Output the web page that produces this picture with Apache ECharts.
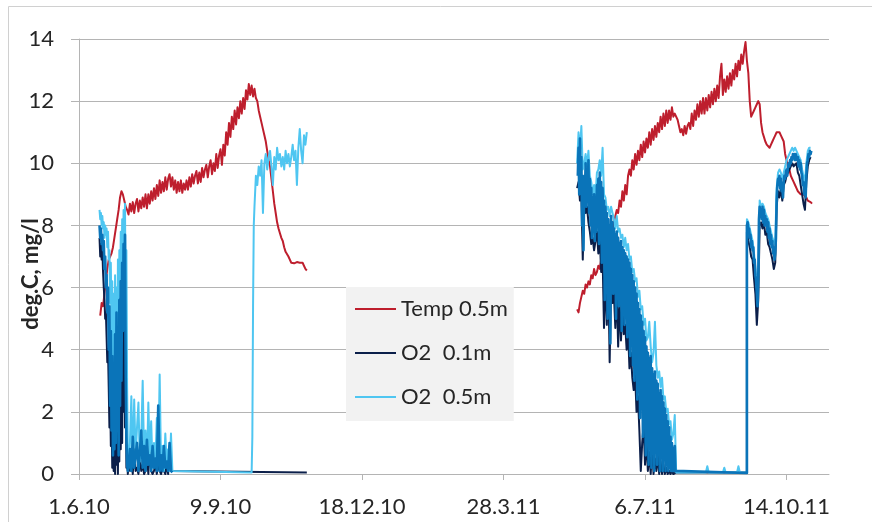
<!DOCTYPE html>
<html>
<head>
<meta charset="utf-8">
<script src="https://cdn.jsdelivr.net/npm/echarts@6/dist/echarts.min.js"></script>
<style>
  html, body { margin: 0; padding: 0; background: #ffffff; }
  #chart { width: 872px; height: 522px; }
</style>
</head>
<body>
<div id="chart"></div>
<script>
// x axis: days counted from 1 June 2010
const AXIS_START = Date.UTC(2010, 5, 1);
const xTickDays = [0, 100, 200, 300, 400, 500];
const xMaxDay = 530;
const yMin = 0, yMax = 14, yStep = 2;
const yTitle = 'deg.C, mg/l';
const legendNames = ['Temp 0.5m', 'O2  0.1m', 'O2  0.5m'];

// Temperature at 0.5 m, daily readings
const temp2010Start = 15;
const temp2010 = [
  5.1, 5.5, 5.4, 5.8, 6.2, 6.6, 6.9, 7.0, 7.1, 7.3,
  7.6, 7.9, 8.2, 8.5, 8.9, 9.1, 9.0, 8.8, 8.6, 8.5,
  8.35, 8.7, 8.45, 8.75, 8.4, 8.7, 8.85, 8.45, 8.8, 8.55,
  8.9, 8.6, 9.0, 8.55, 9.0, 8.7, 9.1, 8.8, 9.2, 8.85,
  9.3, 8.95, 9.45, 9.05, 9.4, 9.1, 9.55, 9.15, 9.5, 9.65,
  9.25, 9.55, 9.15, 9.45, 9.05, 9.4, 9.1, 9.45, 9.05, 9.35,
  9.15, 9.45, 9.15, 9.55, 9.25, 9.65, 9.35, 9.6, 9.75, 9.35,
  9.7, 9.4, 9.85, 9.55, 9.8, 9.95, 9.55, 9.9, 10.1, 9.65,
  10.0, 9.75, 10.3, 9.85, 10.25, 10.45, 9.95, 10.6, 10.25, 11.0,
  10.6, 11.3, 10.85, 11.5, 11.1, 11.7, 11.25, 11.8, 11.45, 12.0,
  11.6, 12.1, 11.75, 12.35, 12.05, 12.55, 12.2, 12.5, 12.15, 12.4,
  12.1, 12.0, 11.7, 11.5, 11.3, 11.1, 10.9, 10.7, 10.4, 10.1,
  9.9, 9.5, 9.1, 8.7, 8.4, 8.1, 7.9, 7.75, 7.6, 7.5,
  7.3, 7.15, 7.1, 7.0, 6.9, 6.8, 6.8, 6.78, 6.8, 6.82,
  6.8, 6.8, 6.8, 6.8, 6.75, 6.6, 6.55
];
const temp2011Start = 352;
const temp2011 = [
  5.3, 5.2, 5.5, 5.7, 5.9, 5.8, 6.1, 6.0, 6.2, 6.1,
  6.4, 6.3, 6.6, 6.4, 6.5, 6.7, 6.6, 6.9, 6.8, 7.0,
  7.1, 7.0, 7.4, 7.3, 7.7, 7.6, 8.1, 8.3, 8.5, 8.4,
  8.8, 8.6, 9.1, 8.8, 9.3, 9.0, 9.6, 9.8, 9.6, 10.1,
  9.8, 10.3, 9.95, 10.4, 10.1, 10.6, 10.2, 10.7, 10.35, 10.8,
  10.5, 11.0, 10.6, 11.1, 10.75, 11.2, 10.85, 11.3, 11.0, 11.5,
  11.1, 11.6, 11.2, 11.7, 11.3, 11.7, 11.4, 11.8, 11.5, 11.6,
  11.6, 11.4, 11.2, 11.0, 11.1, 10.9, 11.2, 10.95, 11.2, 11.3,
  11.1, 11.6, 11.2, 11.7, 11.4, 11.9, 11.5, 12.0, 11.6, 12.1,
  11.6, 12.1, 11.7, 12.2, 11.8, 12.3, 11.9, 12.4, 12.0, 12.5,
  12.1, 12.8, 13.2, 12.2, 12.7, 12.3, 12.8, 12.4, 12.9, 12.5,
  13.0, 12.7, 13.2, 12.8, 13.3, 13.0, 13.5, 13.2, 13.6, 13.9,
  13.3, 12.9, 12.0, 11.5, 11.6, 11.7, 11.8, 11.9, 12.0, 11.9,
  11.3, 11.0, 10.85, 10.7, 10.6, 10.55, 10.5, 10.6, 10.7, 10.8,
  10.9, 11.0, 11.05, 11.0, 10.9, 10.85, 10.7, 10.3, 10.1, 9.9,
  9.8, 9.6, 9.5, 9.4, 9.3, 9.2, 9.1, 9.05, 9.0, 9.05,
  9.0, 8.95, 8.9, 8.8, 8.85, 8.75, 8.7
];

// O2 at 0.1 m (mg/l)
const o2Top2010Drop = [   // half-day readings from day 14.5
  7.6, 7.0, 7.4, 6.9, 7.2, 6.5, 6.0, 5.6, 5.0, 5.2,
  4.4, 3.6, 4.0, 2.8, 1.5, 2.6, 0.9, 1.8, 0.2, 1.0,
  0.1, 2.2, 0.0, 3.4, 0.3, 1.2, 0.0, 2.6, 0.4, 4.2,
  0.8, 3.0, 1.0, 5.0, 2.0, 6.3, 1.5, 3.5, 0.2, 0.6,
  0.0, 0.3
];
const o2Top2010Low = [    // daily readings from day 35
  0.3, 0.1, 0.6, 0.0, 0.8, 0.1, 0.2, 0.0, 0.5, 0.1,
  0.3, 0.0, 0.1, 0.6, 0.0, 0.9, 0.1, 0.0, 0.1, 0.3,
  0.0, 0.4, 0.1, 0.0, 0.2, 0.1, 0.0, 0.3, 0.0, 0.9,
  0.1, 0.05
];
const o2Top2010End = [[161, 0.05]];
const o2Top2011Drop = [   // daily readings from day 352
  9.2, 9.4, 8.8, 9.0, 6.9, 8.8, 8.4, 8.6, 8.1, 7.8,
  7.4, 7.6, 7.2, 7.5, 7.8, 7.1, 7.6, 6.5, 7.0, 4.7,
  6.5, 4.8, 6.6, 3.6, 6.1, 5.5, 5.8, 4.7, 6.0, 4.1,
  5.6, 4.3, 5.4, 4.5, 4.8, 4.0, 4.6, 3.4, 3.9, 3.1,
  2.7, 3.2, 2.0, 2.5, 1.4, 0.1, 1.0, 1.6, 0.3, 1.1,
  0.1, 0.7, 0.0, 0.9, 0.0, 0.5, 0.1, 0.6, 0.0, 0.4,
  0.0, 0.3, 0.0, 0.2, 0.0, 0.1, 0.0, 0.1, 0.0, 0.05,
  0.05
];
const o2Top2011Anoxic = [[472, 0.05]];
const o2Top2011Rise = [   // daily readings from day 472
  7.8, 7.5, 7.3, 7.0, 6.9, 6.3, 5.8, 4.8, 5.6, 8.0,
  8.1, 7.9, 8.1, 7.7, 7.8, 7.4, 7.3, 7.1, 6.9, 6.6,
  6.8, 8.6, 9.1, 8.9, 9.2, 8.8, 9.3, 9.4, 9.6, 9.7,
  9.8, 9.9, 10.0, 9.9, 9.9, 10.0, 9.7, 9.6, 9.3, 9.0,
  8.7, 8.5, 9.4, 9.9, 10.1, 10.2
];

// O2 at 0.5 m (mg/l)
const o2Half2010Drop = [  // half-day readings from day 14.5
  8.5, 8.2, 8.4, 8.0, 8.3, 7.9, 8.1, 7.6, 8.0, 7.7,
  7.9, 7.3, 7.8, 6.9, 7.2, 5.5, 6.8, 4.2, 6.2, 3.5,
  5.8, 2.0, 6.4, 1.2, 6.0, 2.8, 6.9, 3.5, 7.2, 4.8,
  7.8, 5.6, 8.2, 6.0, 8.5, 6.8, 8.7, 5.2, 7.2, 2.8,
  0.8, 0.2
];
const o2Half2010Low = [   // daily readings from day 35
  0.2, 1.0, 2.5, 0.3, 2.4, 0.6, 1.5, 2.3, 0.4, 1.1,
  3.0, 0.5, 1.4, 0.3, 2.3, 0.6, 1.7, 0.2, 1.0, 0.4,
  1.8, 0.3, 3.2, 0.2, 0.9, 0.1, 1.3, 0.3, 0.8, 0.1,
  1.3, 0.1, 0.05
];
const o2Half2010Return = [0.05, 1.2, 5.4, 8.0];   // half-day readings from day 122
const o2Half2010High = [  // daily readings from day 124
  8.6, 9.6, 9.3, 9.9, 9.6, 10.1, 8.4, 10.0, 10.3, 9.8,
  10.2, 10.4, 9.9, 9.3, 10.2, 9.8, 10.5, 10.1, 10.3, 9.9,
  10.2, 9.8, 10.4, 10.0, 10.3, 9.9, 10.2, 10.6, 10.1, 10.4,
  9.3, 10.5, 11.1, 10.4, 10.0, 10.9, 10.6, 11.0
];
const o2Half2011Drop = [  // daily readings from day 352
  10.0, 11.0, 10.4, 11.2, 9.8, 10.0, 10.3, 9.9, 10.4, 9.6,
  9.4, 9.0, 9.3, 8.9, 9.7, 9.8, 10.1, 9.6, 10.5, 9.0,
  8.9, 8.5, 8.6, 8.3, 8.6, 8.4, 8.2, 7.9, 8.3, 7.8,
  7.9, 7.6, 7.7, 7.3, 7.6, 7.2, 7.4, 6.9, 7.0, 6.5,
  6.6, 6.2, 6.3, 5.7, 5.9, 5.3, 5.4, 4.8, 5.0, 4.3,
  4.4, 4.9, 4.1, 3.6, 3.9, 4.9, 3.5, 3.1, 3.3, 2.8,
  3.1, 2.4, 2.5, 2.0, 2.1, 1.6, 1.7, 1.1, 1.3, 1.9,
  0.05
];
const o2Half2011Anoxic = [
  [430, 0.05], [443, 0.05], [444, 0.25], [445, 0.05], [455, 0.05], [456, 0.2],
  [457, 0.05], [465, 0.05], [466, 0.25], [467, 0.05], [472, 0.05]
];
const o2Half2011Rise = [  // daily readings from day 472
  8.2, 8.1, 7.9, 7.7, 7.5, 7.1, 6.6, 6.0, 6.4, 8.8,
  8.6, 8.7, 8.6, 8.4, 8.3, 8.2, 8.0, 7.8, 7.6, 7.5,
  7.4, 9.2, 9.7, 9.8, 9.7, 9.5, 9.7, 9.9, 10.1, 10.2,
  10.3, 10.4, 10.5, 10.4, 10.5, 10.4, 10.4, 10.2, 10.1, 9.8,
  9.6, 9.4, 10.0, 10.4, 10.5, 10.5
];

// O2, intermediate logger (mg/l), not listed in the legend
const o2Mid2010Drop = [   // half-day readings from day 14.5
  8.0, 7.6, 7.9, 7.4, 7.7, 7.2, 7.5, 6.6, 7.0, 6.0,
  6.4, 5.2, 6.0, 4.0, 5.4, 2.2, 4.6, 1.4, 3.8, 0.6,
  2.9, 0.8, 4.5, 1.0, 5.2, 1.6, 4.0, 0.6, 5.6, 2.2,
  6.2, 3.0, 6.8, 4.6, 7.4, 5.0, 7.7, 3.2, 1.2, 0.3,
  0.1, 0.2
];
const o2Mid2010Low = [    // daily readings from day 35
  0.2, 0.8, 0.1, 1.2, 0.2, 0.6, 1.0, 0.1, 0.7, 1.4,
  0.2, 0.9, 0.1, 1.1, 0.3, 0.6, 0.1, 0.9, 0.2, 0.5,
  0.1, 2.2, 0.1, 0.6, 0.1, 0.9, 0.2, 0.4, 0.1, 1.0,
  0.1, 0.05
];
const o2Mid2011Drop = [   // half-day readings from day 352.5
  9.6, 10.5, 9.0, 10.8, 9.4, 10.2, 8.0, 9.6, 7.2, 9.4,
  9.0, 10.0, 8.6, 9.8, 8.8, 10.1, 8.4, 9.5, 8.0, 9.2,
  7.6, 8.9, 7.9, 9.0, 7.5, 8.7, 7.8, 9.3, 8.2, 9.5,
  7.4, 9.7, 8.0, 9.4, 6.8, 9.2, 7.5, 8.8, 5.6, 8.6,
  6.9, 8.4, 5.0, 8.2, 7.0, 8.0, 4.2, 8.3, 6.5, 8.1,
  5.8, 7.9, 6.2, 7.7, 5.0, 7.8, 6.4, 7.6, 5.4, 7.4,
  6.0, 7.5, 4.6, 7.3, 5.8, 7.2, 4.8, 7.1, 5.2, 7.0,
  4.4, 6.9, 5.0, 6.8, 3.8, 6.6, 4.2, 6.4, 3.5, 6.2,
  3.0, 6.0, 3.6, 5.8, 2.4, 5.5, 2.9, 5.3, 1.8, 5.1,
  2.4, 4.9, 1.2, 4.6, 2.0, 4.4, 0.6, 4.1, 1.4, 3.9,
  0.3, 3.7, 1.0, 3.8, 0.2, 3.4, 1.2, 3.2, 0.1, 3.3,
  0.8, 3.0, 0.3, 2.9, 0.9, 2.6, 0.1, 2.7, 0.6, 2.5,
  0.1, 2.3, 0.5, 2.1, 0.1, 1.9, 0.3, 1.7, 0.1, 1.5,
  0.2, 1.2, 0.1, 1.0, 0.1, 0.8, 0.1, 0.9, 0.1, 0.05
];
const o2Mid2011Anoxic = [[472, 0.03]];
const o2Mid2011Rise = [   // half-day readings from day 472
  8.0, 8.1, 7.8, 7.9, 7.6, 7.7, 7.3, 7.5, 7.2, 7.3,
  6.8, 6.9, 6.4, 6.2, 5.8, 5.4, 6.2, 8.2, 8.6, 8.3,
  8.5, 8.2, 8.6, 8.1, 8.5, 8.0, 8.3, 8.0, 8.2, 7.8,
  8.1, 7.6, 7.9, 7.4, 7.7, 7.3, 7.5, 7.1, 7.3, 6.9,
  7.1, 7.6, 8.8, 9.3, 9.5, 9.3, 9.6, 9.2, 9.5, 9.1,
  9.3, 8.9, 9.4, 9.6, 9.5, 9.7, 9.8, 9.6, 9.9, 10.0,
  9.9, 10.1, 10.0, 10.2, 10.1, 10.3, 10.2, 10.3, 10.1, 10.3,
  10.2, 10.1, 10.2, 9.9, 10.1, 9.8, 10.0, 9.7, 9.6, 9.3,
  9.4, 9.0, 9.2, 8.9, 9.6, 10.0, 10.1, 10.3, 10.2, 10.4,
  10.3, 10.4
];

// readings taken at a fixed step -> [day, value] pairs
function run(startDay, stepDays, values) {
  return values.map((v, i) => [startDay + i * stepDays, v]);
}

const COLORS = { temp: '#be1e2d', top: '#0b1f4a', half: '#4fc6f1', mid: '#0a74b9' };

function line(name, color, data, width) {
  return {
    type: 'line', name: name, data: data, color: color,
    symbol: 'none', showSymbol: false, smooth: false,
    lineStyle: { width: width || 2, color: color, join: 'round' },
    emphasis: { disabled: true }, silent: true, animation: false
  };
}

const series = [
  line(legendNames[0], COLORS.temp, run(temp2010Start, 1, temp2010)),
  line(legendNames[0], COLORS.temp, run(temp2011Start, 1, temp2011)),
  line(legendNames[1], COLORS.top,
       run(14.5, 0.5, o2Top2010Drop).concat(run(35, 1, o2Top2010Low), o2Top2010End)),
  line(legendNames[1], COLORS.top,
       run(352, 1, o2Top2011Drop).concat(o2Top2011Anoxic, run(472, 1, o2Top2011Rise))),
  line(legendNames[2], COLORS.half,
       run(14.5, 0.5, o2Half2010Drop).concat(run(35, 1, o2Half2010Low),
         run(122, 0.5, o2Half2010Return), run(124, 1, o2Half2010High))),
  line(legendNames[2], COLORS.half,
       run(352, 1, o2Half2011Drop).concat(o2Half2011Anoxic, run(472, 1, o2Half2011Rise))),
  line('O2 mid', COLORS.mid,
       run(14.5, 0.5, o2Mid2010Drop).concat(run(35, 1, o2Mid2010Low)), 2.6),
  line('O2 mid', COLORS.mid,
       run(352.5, 0.5, o2Mid2011Drop).concat(o2Mid2011Anoxic, run(472, 0.5, o2Mid2011Rise)), 2.6)
];

function dayLabel(day) {
  const d = new Date(AXIS_START + day * 86400000);
  return d.getUTCDate() + '.' + (d.getUTCMonth() + 1) + '.' + String(d.getUTCFullYear()).slice(2);
}

const FONT = 'Lato, "Open Sans", sans-serif';
const TEXT = '#262626';
const GRID = '#b4b4b4';

const option = {
  backgroundColor: '#ffffff',
  animation: false,
  grid: { left: 79, right: 43, top: 39, bottom: 48, containLabel: false },
  xAxis: {
    type: 'value', min: 0, max: xMaxDay,
    axisLine: { show: true, lineStyle: { color: GRID, width: 1 } },
    axisTick: { show: true, length: 6, inside: false, customValues: xTickDays, lineStyle: { color: GRID } },
    axisLabel: { customValues: xTickDays, formatter: dayLabel, margin: 22,
                 fontFamily: FONT, fontSize: 22, color: TEXT },
    splitLine: { show: false }
  },
  yAxis: {
    type: 'value', min: yMin, max: yMax, interval: yStep,
    axisLine: { show: true, lineStyle: { color: GRID, width: 1 } },
    axisTick: { show: true, length: 8, inside: false, lineStyle: { color: GRID } },
    axisLabel: { margin: 25, fontFamily: FONT, fontSize: 22, color: TEXT },
    splitLine: { show: true, lineStyle: { color: GRID, width: 1 } }
  },
  legend: {
    data: legendNames,
    orient: 'vertical', left: 346, top: 287,
    backgroundColor: '#f2f2f2',
    padding: [9, 6, 11, 9],
    itemGap: 18, itemWidth: 41, itemHeight: 2, icon: 'rect',
    textStyle: { fontFamily: FONT, fontSize: 22, color: TEXT, lineHeight: 26 },
    selectedMode: false
  },
  graphic: [
    { type: 'rect', silent: true, z: -10,
      shape: { x: 8.5, y: 6.5, width: 900, height: 600 },
      style: { fill: 'none', stroke: '#d0d0d0', lineWidth: 1 } },
    { type: 'text', silent: true, x: 31, y: 274, rotation: Math.PI / 2,
      style: { text: yTitle, fill: TEXT, font: 'bold 22px ' + FONT,
               align: 'center', verticalAlign: 'middle' } }
  ],
  series: series
};

const chart = echarts.init(document.getElementById('chart'), null, { renderer: 'canvas' });
chart.setOption(option);
</script>
</body>
</html>
